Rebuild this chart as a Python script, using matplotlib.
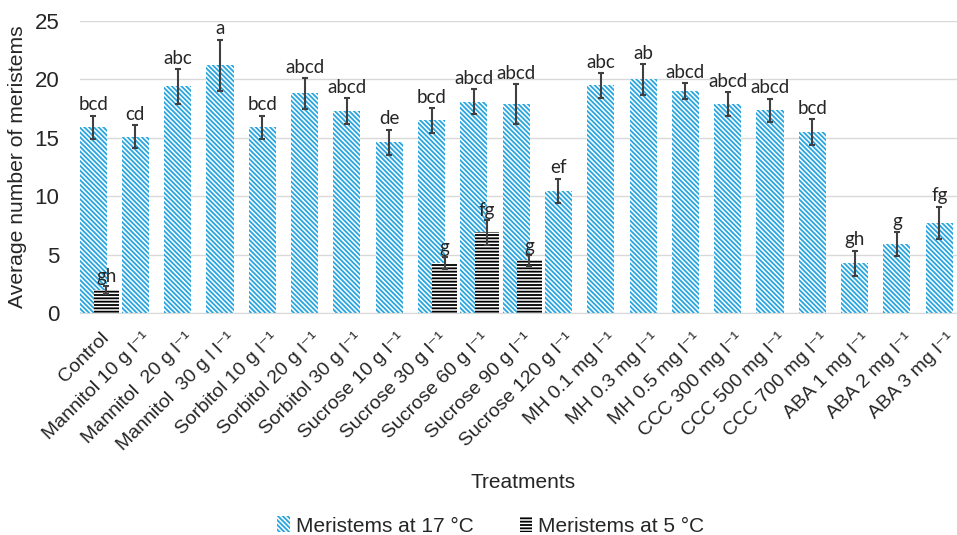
import matplotlib
matplotlib.use("Agg")
import matplotlib.pyplot as plt
import numpy as np

treatments = ["Control", "Mannitol 10 g l⁻¹", "Mannitol  20 g l⁻¹", "Mannitol  30 g l l⁻¹",
              "Sorbitol 10 g l⁻¹", "Sorbitol 20 g l⁻¹", "Sorbitol 30 g l⁻¹", "Sucrose 10 g l⁻¹",
              "Sucrose 30 g l⁻¹", "Sucrose 60 g l⁻¹", "Sucrose 90 g l⁻¹", "Sucrose 120 g l⁻¹",
              "MH 0.1 mg l⁻¹", "MH 0.3 mg l⁻¹", "MH 0.5 mg l⁻¹", "CCC 300 mg l⁻¹",
              "CCC 500 mg l⁻¹", "CCC 700 mg l⁻¹", "ABA 1 mg l⁻¹", "ABA 2 mg l⁻¹", "ABA 3 mg l⁻¹"]
mer17 = [15.9, 15.1, 19.4, 21.2, 15.9, 18.8, 17.3, 14.6, 16.5, 18.1, 17.9, 10.45,
         19.5, 20.0, 19.0, 17.9, 17.35, 15.5, 4.25, 5.9, 7.7]
err17 = [1.0, 1.0, 1.5, 2.2, 1.0, 1.3, 1.1, 1.1, 1.05, 1.05, 1.7, 1.05,
         1.05, 1.3, 0.65, 1.0, 1.0, 1.1, 1.1, 1.0, 1.4]
let17 = ["bcd", "cd", "abc", "a", "bcd", "abcd", "abcd", "de", "bcd", "abcd", "abcd", "ef",
         "abc", "ab", "abcd", "abcd", "abcd", "bcd", "gh", "g", "fg"]
idx5 = [0, 8, 9, 10]
mer5 = [2.0, 4.3, 6.9, 4.5]
err5 = [0.35, 0.5, 1.1, 0.45]
let5 = ["gh", "g", "fg", "g"]

plt.rcParams['font.family'] = ['Liberation Sans', 'DejaVu Sans']
plt.rcParams['hatch.linewidth'] = 1.3

blue = '#29a6df'
txt = '#262626'

fig = plt.figure(figsize=(9.57, 5.35), dpi=100)
ax = fig.add_axes([80/957, 1-313/535, 877/957, 292/535])

x = np.arange(len(treatments))
xb = x - 0.16
ax.bar(xb, mer17, width=0.64, color='white', edgecolor=blue, linewidth=0,
       hatch='\\' * 7, label='Meristems at 17 °C', zorder=2)
ax.errorbar(xb, mer17, yerr=err17, fmt='none', ecolor='#404040', elinewidth=1.5,
            capsize=2.5, capthick=1.5, zorder=4)
for xi, v, e, l in zip(xb, mer17, err17, let17):
    ax.text(xi, v + e + 0.2, l, ha='center', va='bottom', fontsize=13.5,
            color=txt, family=['Lato', 'DejaVu Sans'], zorder=5)

xk = np.array(idx5) + 0.15
ax.bar(xk, mer5, width=0.59, color='white', edgecolor='black', linewidth=0,
       hatch='-' * 5, label='Meristems at 5 °C', zorder=3)
ax.errorbar(xk, mer5, yerr=err5, fmt='none', ecolor='#404040', elinewidth=1.5,
            capsize=2.5, capthick=1.5, zorder=4)
for xi, v, e, l in zip(xk, mer5, err5, let5):
    ax.text(xi, v + e + 0.05, l, ha='center', va='bottom', fontsize=13.5,
            color=txt, family=['Lato', 'DejaVu Sans'], zorder=5)

ax.set_xlim(-0.47, 20.26)
ax.set_ylim(0, 25)
ax.set_yticks([0, 5, 10, 15, 20, 25])
ax.yaxis.grid(True, color='#d9d9d9', linewidth=1, zorder=0)
ax.set_axisbelow(True)
for s in ['top', 'right', 'left']:
    ax.spines[s].set_visible(False)
ax.spines['bottom'].set_color('#d9d9d9')
ax.tick_params(axis='both', length=0, colors=txt)
ax.tick_params(axis='y', labelsize=16, pad=15)
ax.set_xticks(x)
ax.set_xticklabels(treatments, rotation=45, ha='right', rotation_mode='anchor',
                   fontsize=14, color=txt)
ax.tick_params(axis='x', pad=12)
ax.set_ylabel('Average number of meristems', fontsize=15.2, color=txt)
ax.yaxis.set_label_coords(-0.060, 0.5)
ax.set_xlabel('Treatments', fontsize=15, color=txt)
ax.xaxis.set_label_coords(0.505, -0.582)
ax.xaxis.label.set_va('center')

leg = fig.legend(loc='center', bbox_to_anchor=(0.513, 1-526/535), ncol=2, frameon=False,
                 fontsize=15, handlelength=0.6, handleheight=0.8, handletextpad=0.3,
                 columnspacing=2.2, labelcolor=txt, borderpad=0)

fig.savefig('out.png', dpi=100)
